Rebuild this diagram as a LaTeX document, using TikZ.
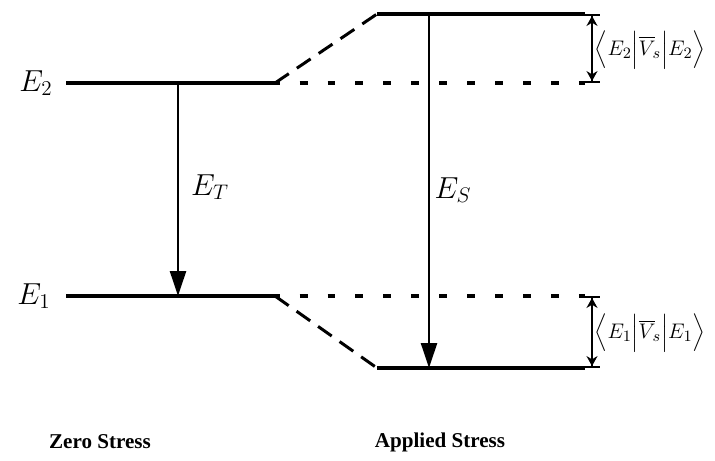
\documentclass[tikz,border=0pt]{standalone}
\usepackage{amsmath}
\usepackage{fontspec}
\setmainfont{Liberation Serif}
\usetikzlibrary{arrows.meta,positioning}

\begin{document}
\begin{tikzpicture}[x=0.02cm, y=-0.02cm,
  level/.style={line width=2.2pt},
  shifted/.style={line width=1.7pt, dash pattern=on 9.5pt off 5.5pt},
  unshifted/.style={line width=1.9pt, dash pattern=on 4.5pt off 11.4pt, dash phase=-14pt},
  trans/.style={line width=1.4pt, -{Triangle[length=5mm, width=3.2mm]}},
  gap/.style={line width=1.1pt, {Bar[width=3mm]Stealth[length=2mm, width=2.2mm]}-{Stealth[length=2mm, width=2.2mm]Bar[width=3mm]}},
  lbl/.style={font=\fontsize{17}{19}\selectfont},
  braket/.style={font=\fontsize{13}{15}\selectfont},
  heading/.style={font=\fontsize{12}{14}\selectfont\bfseries}
]
  \useasboundingbox (0,0) rectangle (715,460);

  % zero stress levels
  \coordinate (Z2a) at (66,83);
  \coordinate (Z2b) at (275,83);
  \coordinate (Z1a) at (66,296);
  \coordinate (Z1b) at (275,296);
  % applied stress levels
  \coordinate (S2a) at (377,14);
  \coordinate (S2b) at (585,14);
  \coordinate (S1a) at (377,368);
  \coordinate (S1b) at (585,368);
  \coordinate (R2) at (585,83);
  \coordinate (R1) at (585,296);

  \draw[level] (Z2a) -- (Z2b);
  \draw[level] (Z1a) -- (Z1b);
  \draw[level] (S2a) -- (S2b);
  \draw[level] (S1a) -- (S1b);

  \draw[shifted] (Z2b) -- (S2a);
  \draw[shifted] (Z1b) -- (S1a);
  \draw[unshifted] (Z2b) -- (R2);
  \draw[unshifted] (Z1b) -- (R1);

  % transitions
  \coordinate (T2) at (178,83);
  \coordinate (T1) at (178,296);
  \coordinate (U2) at (429,14);
  \coordinate (U1) at (429,368);
  \draw[trans] (T2) -- (T1);
  \draw[trans] (U2) -- (U1);

  % level shifts
  \coordinate (G2a) at (592,14);
  \coordinate (G2b) at (592,83);
  \coordinate (G1a) at (592,296);
  \coordinate (G1b) at (592,368);
  \draw[gap] (G2a) -- (G2b);
  \draw[gap] (G1a) -- (G1b);

  \node[lbl] (e2) at (36,83) {$E_2$};
  \node[lbl] (e1) at (34,296) {$E_1$};
  \node[lbl] (et) at (210,187) {$E_T$};
  \node[lbl] (es) at (453,190) {$E_S$};
  \node[braket] (m2) at (650,50) {$\Big\langle E_2\Big|\overline{V}_{\!s}\Big|E_2\Big\rangle$};
  \node[braket] (m1) at (650,333) {$\Big\langle E_1\Big|\overline{V}_{\!s}\Big|E_1\Big\rangle$};

  \node[heading] (zero) at (100,442) {Zero Stress};
  \node[heading] (applied) at (440,442) {Applied Stress};
\end{tikzpicture}
\end{document}
